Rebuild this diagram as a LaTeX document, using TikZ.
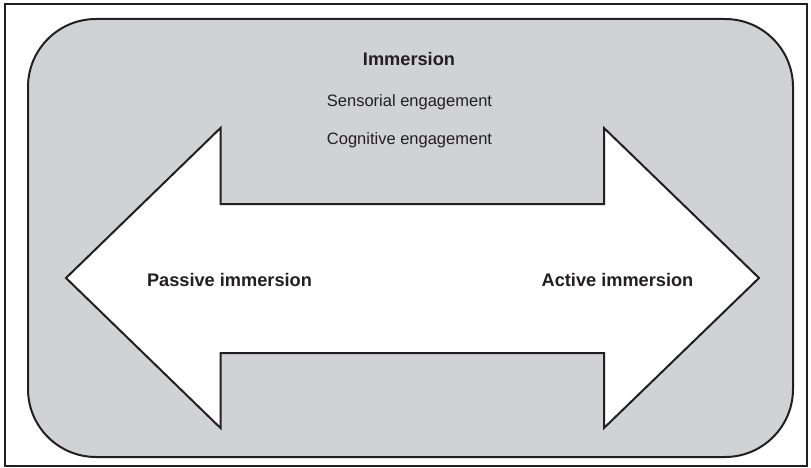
\documentclass[tikz,border=0pt]{standalone}
\usepackage{fontspec}
\setmainfont{Liberation Sans}
\definecolor{panelgray}{RGB}{209,210,212}
\definecolor{inkdark}{RGB}{35,31,32}
\begin{document}
\begin{tikzpicture}[x=1pt,y=-1pt,
  boldlabel/.style={font=\fontsize{18.2}{22}\selectfont\bfseries, text=inkdark, inner sep=0pt, anchor=base},
  plainlabel/.style={font=\fontsize{16.5}{20}\selectfont, text=inkdark, inner sep=0pt, anchor=base},
  panel/.style={fill=panelgray, draw=inkdark, line width=2pt, rounded corners=68pt},
  arrowshape/.style={fill=white, draw=inkdark, line width=2pt, line join=miter}]
\useasboundingbox (0,0) rectangle (811,468);
\draw[inkdark, line width=1.5pt] (5,4) rectangle (807,466);
\draw[panel] (28,19) rectangle (793,457);
\draw[arrowshape] (66,278) -- (220.5,128) -- (220.5,204) -- (604,204) -- (604,128)
  -- (759,278) -- (604,428) -- (604,353) -- (220.5,353) -- (220.5,428) -- cycle;
\node[boldlabel] (title) at (409,65.5) {Immersion};
\node[plainlabel] (sens) at (409.5,106.5) {Sensorial engagement};
\node[plainlabel] (cog) at (409.5,145) {Cognitive engagement};
\node[boldlabel] (passive) at (229.5,286) {Passive immersion};
\node[boldlabel] (active) at (617.5,286) {Active immersion};
\end{tikzpicture}
\end{document}
